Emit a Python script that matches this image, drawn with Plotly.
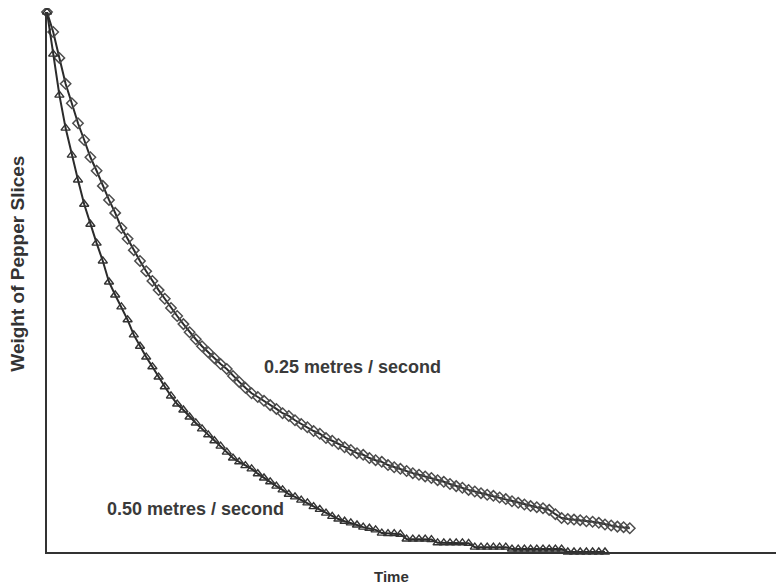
import plotly.graph_objects as go

# Time index (one reading per step)
time_025 = list(range(95))
time_050 = list(range(91))

# Weight of pepper slices (% of initial), 0.25 m/s
weight_025 = [100, 96.3, 91.5, 86.7, 83.1, 79.4, 76.3, 73.1, 70.6, 67.8,
              65.2, 62.8, 60.0, 58.0, 55.9, 53.9, 52.0, 50.2, 48.5, 46.9,
              45.2, 43.7, 42.2, 40.7, 39.4, 38.1, 37.0, 35.9, 34.8, 33.9,
              32.6, 31.5, 30.4, 29.4, 28.7, 28.0, 27.2, 26.5, 25.7, 25.2,
              24.4, 23.7, 23.1, 22.4, 21.9, 21.1, 20.6, 20.0, 19.4, 18.9,
              18.3, 18.0, 17.4, 17.0, 16.7, 16.1, 15.7, 15.4, 15.0, 14.6,
              14.3, 14.0, 13.7, 13.3, 13.0, 12.6, 12.2, 11.9, 11.5, 11.2,
              10.9, 10.6, 10.4, 10.1, 9.8, 9.4, 9.1, 8.8, 8.5, 8.3,
              8.1, 7.8, 7.0, 6.3, 6.1, 6.0, 5.9, 5.7, 5.6, 5.4,
              5.1, 4.9, 4.7, 4.6, 4.4]

# Weight of pepper slices (% of initial), 0.50 m/s
weight_050 = [100, 92.2, 84.6, 78.5, 73.5, 68.9, 64.4, 60.7, 57.2, 53.9,
              50.0, 47.6, 45.4, 43.0, 40.2, 38.1, 36.1, 34.3, 32.4, 30.6,
              28.9, 27.4, 26.3, 25.0, 23.9, 22.8, 21.7, 20.6, 19.6, 18.5,
              17.4, 16.7, 16.0, 15.4, 14.5, 13.7, 13.0, 12.2, 11.5, 10.7,
              10.2, 9.6, 9.1, 8.4, 7.9, 7.2, 6.6, 6.1, 5.7, 5.4,
              5.0, 4.6, 4.4, 4.1, 3.5, 3.4, 3.4, 3.3, 2.4, 2.4,
              2.4, 2.4, 2.3, 1.7, 1.7, 1.7, 1.7, 1.7, 1.6, 0.9,
              0.9, 0.9, 0.9, 0.9, 0.9, 0.55, 0.55, 0.55, 0.55, 0.55,
              0.55, 0.55, 0.55, 0.55, 0.0, 0.0, 0.0, 0.0, 0.0, 0.0,
              0.0]

label_025 = "0.25 metres / second"
label_050 = "0.50 metres / second"
x_title = "Time"
y_title = "Weight of Pepper Slices"

fig = go.Figure()
fig.add_trace(go.Scatter(
    x=time_025, y=weight_025, mode="lines+markers",
    line=dict(color="#2b2b2b", width=2),
    marker=dict(symbol="diamond-open", size=8, color="#4d4d4d",
                line=dict(width=1.5, color="#4d4d4d")),
    cliponaxis=False, showlegend=False))
fig.add_trace(go.Scatter(
    x=time_050, y=weight_050, mode="lines+markers",
    line=dict(color="#2b2b2b", width=2),
    marker=dict(symbol="triangle-up-open", size=8, color="#333333",
                line=dict(width=1.4, color="#333333")),
    cliponaxis=False, showlegend=False))

font_lbl = dict(family="Liberation Sans, Arial, sans-serif", size=18, color="#3a3a3a", weight="bold")
fig.add_annotation(x=49.2, y=34.3, xref="x", yref="y", text=label_025,
                   showarrow=False, font=font_lbl)
fig.add_annotation(x=23.95, y=8.0, xref="x", yref="y", text=label_050,
                   showarrow=False, font=font_lbl)
fig.add_annotation(x=0.468, y=-0.046, xref="paper", yref="paper", text=x_title,
                   showarrow=False, yanchor="middle",
                   font=dict(family="Liberation Sans, Arial, sans-serif", size=15,
                             color="#333333", weight="bold"))
fig.add_annotation(x=-0.040, y=0.533, xref="paper", yref="paper", text=y_title,
                   showarrow=False, textangle=-90, xanchor="center", yanchor="middle",
                   font=dict(family="Liberation Sans, Arial, sans-serif", size=19,
                             color="#333333", weight="bold"))

# page body has an 8px margin, so the figure is sized to fit the 784x584 window
fig.update_layout(
    width=776, height=576,
    margin=dict(l=39, r=0, t=4, b=32),
    paper_bgcolor="white", plot_bgcolor="white",
    xaxis=dict(range=[0, 118.87], showline=True, linecolor="#333333", linewidth=2,
               showgrid=False, zeroline=False, showticklabels=False, ticks=""),
    yaxis=dict(range=[0, 100], showline=True, linecolor="#333333", linewidth=2,
               showgrid=False, zeroline=False, showticklabels=False, ticks=""),
)

fig.write_html("out.html")
